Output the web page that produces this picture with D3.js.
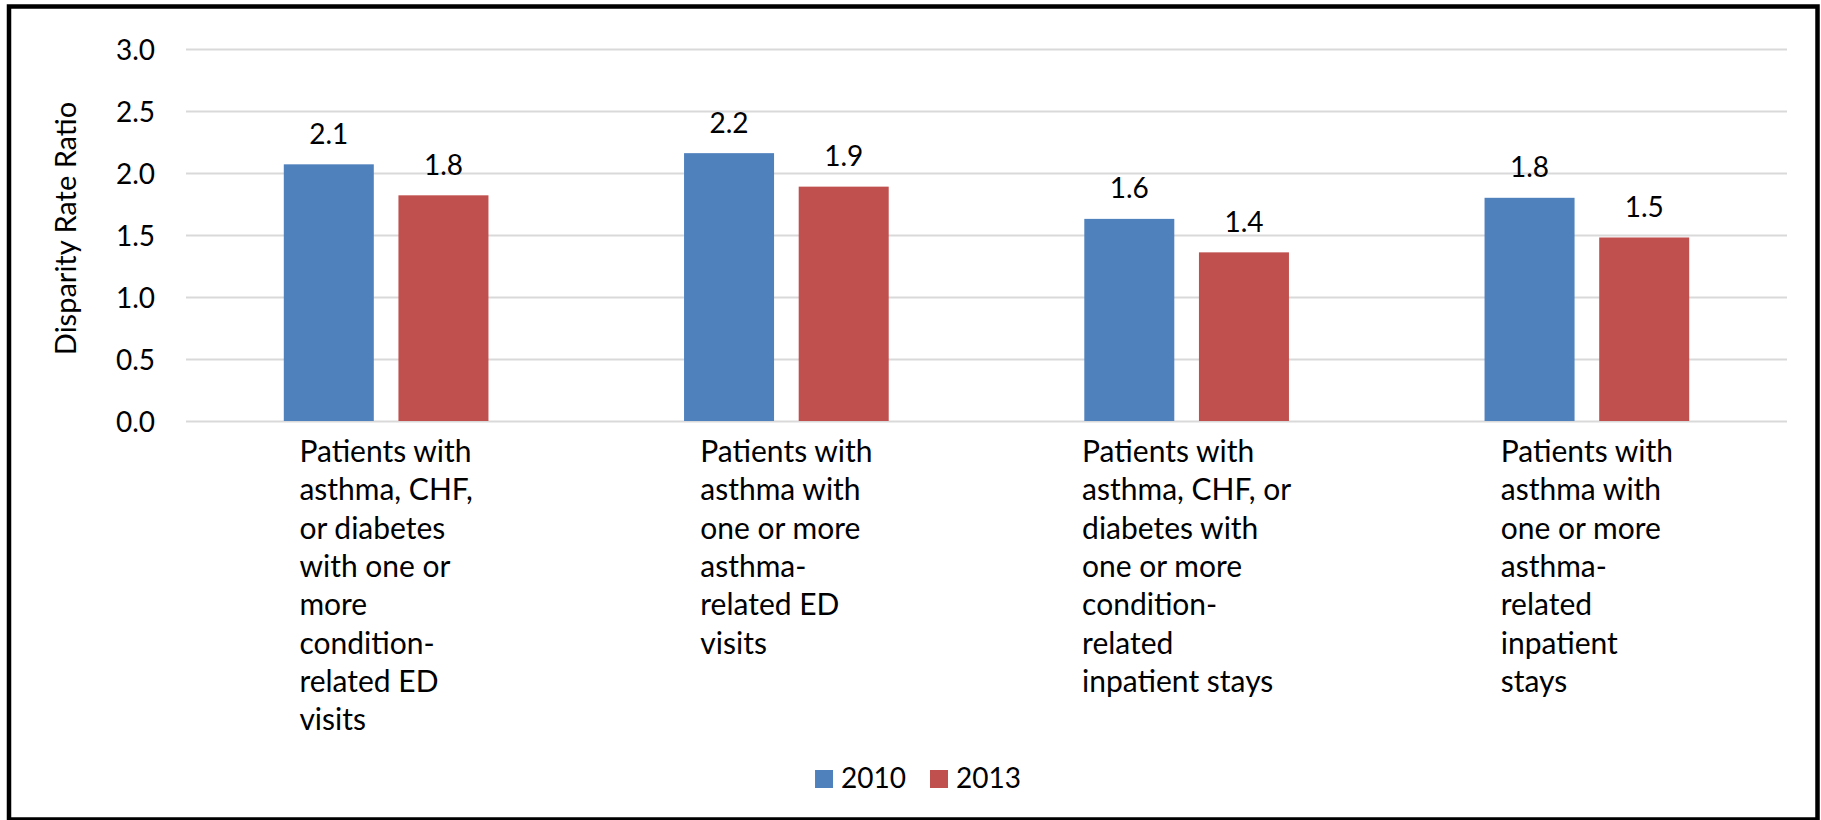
<!DOCTYPE html>
<html>
<head>
<meta charset="utf-8">
<script src="https://cdn.jsdelivr.net/npm/d3@7"></script>
<style>
  html, body { margin: 0; padding: 0; background: #fff; }
  svg { display: block; }
  text { font-family: Lato, "Open Sans", sans-serif; fill: #000; }
</style>
</head>
<body>
<svg id="chart" width="1821" height="820"></svg>
<script>
// Category labels (line breaks as they wrap under each group)
const categories = [
  "Patients with\nasthma, CHF,\nor diabetes\nwith one or\nmore\ncondition-\nrelated ED\nvisits",
  "Patients with\nasthma with\none or more\nasthma-\nrelated ED\nvisits",
  "Patients with\nasthma, CHF, or\ndiabetes with\none or more\ncondition-\nrelated\ninpatient stays",
  "Patients with\nasthma with\none or more\nasthma-\nrelated\ninpatient\nstays"
];
const seriesNames = ["2010", "2013"];
const values2010 = [2.07, 2.16, 1.63, 1.80];
const values2013 = [1.82, 1.89, 1.36, 1.48];
const yTicks = [0, 0.5, 1.0, 1.5, 2.0, 2.5, 3.0];
const colors = ["#4F81BD", "#C0504D"];

const seriesValues = [values2010, values2013];

const svg = d3.select("#chart");
const plot = { left: 186, right: 1787, top: 49, bottom: 421 };

// Outer frame
svg.append("rect")
  .attr("x", 9).attr("y", 6.5)
  .attr("width", 1808.5).attr("height", 813)
  .attr("fill", "#fff")
  .attr("stroke", "#000").attr("stroke-width", 4.5);

const y = d3.scaleLinear().domain([0, 3]).range([plot.bottom, plot.top]);
const x0 = d3.scaleBand().domain(d3.range(categories.length))
  .range([plot.left, plot.right]).padding(0);
const x1 = d3.scaleBand().domain(seriesNames)
  .range([0, x0.bandwidth()]).paddingInner(0.215).paddingOuter(0.853);

// Gridlines and value axis labels
const yAxis = d3.axisLeft(y).tickValues(yTicks)
  .tickSize(-(plot.right - plot.left)).tickFormat(d3.format(".1f"));
const gAxis = svg.append("g")
  .attr("transform", `translate(${plot.left},0)`)
  .call(yAxis);
gAxis.select(".domain").remove();
gAxis.selectAll(".tick line").attr("stroke", "#D9D9D9").attr("stroke-width", 2);
gAxis.selectAll(".tick text")
  .attr("x", -31).attr("dy", null).attr("y", 10)
  .attr("text-anchor", "end")
  .style("font-family", "Lato, sans-serif")
  .style("font-size", "28px").attr("fill", "#000");

// Y axis title
svg.append("text")
  .attr("transform", "translate(76,228.5) rotate(-90)")
  .attr("text-anchor", "middle")
  .style("font-size", "29px")
  .text("Disparity Rate Ratio");

// Bars
const groups = svg.append("g").selectAll("g")
  .data(categories.map((c, i) => i))
  .join("g")
  .attr("transform", i => `translate(${x0(i)},0)`);

groups.selectAll("rect")
  .data(i => seriesNames.map((s, k) => ({ s, k, v: seriesValues[k][i] })))
  .join("rect")
  .attr("x", d => x1(d.s))
  .attr("width", x1.bandwidth())
  .attr("y", d => y(d.v))
  .attr("height", d => y(0) - y(d.v))
  .attr("fill", d => colors[d.k]);

// Value labels
groups.selectAll("text.val")
  .data(i => seriesNames.map((s, k) => ({ s, k, v: seriesValues[k][i] })))
  .join("text")
  .attr("class", "val")
  .attr("x", d => x1(d.s) + x1.bandwidth() / 2)
  .attr("y", d => y(d.v) - 20.5)
  .attr("text-anchor", "middle")
  .style("font-size", "28px")
  .text(d => d3.format(".1f")(d.v));

// Category labels: lines left-aligned, block centred under the group
const lineH = 38.3;
categories.forEach((c, i) => {
  const lines = c.split("\n");
  const t = svg.append("text").style("font-size", "30px");
  lines.forEach((ln, j) => {
    t.append("tspan").attr("x", 0).attr("y", 462 + j * lineH).text(ln);
  });
  let maxW = 0;
  t.selectAll("tspan").each(function () {
    maxW = Math.max(maxW, this.getComputedTextLength());
  });
  const left = x0(i) + x0.bandwidth() / 2 - maxW / 2;
  t.selectAll("tspan").attr("x", left);
});

// Legend
const legend = svg.append("g");
let cx = 0;
seriesNames.forEach((s, k) => {
  legend.append("rect")
    .attr("x", cx).attr("y", -18)
    .attr("width", 18).attr("height", 18)
    .attr("fill", colors[k]);
  const tt = legend.append("text")
    .attr("x", cx + 26).attr("y", 0)
    .style("font-size", "28px")
    .text(s);
  cx += 26 + tt.node().getComputedTextLength() + 24;
});
const legW = cx - 24;
legend.attr("transform", `translate(${918 - legW / 2},788)`);
</script>
</body>
</html>
